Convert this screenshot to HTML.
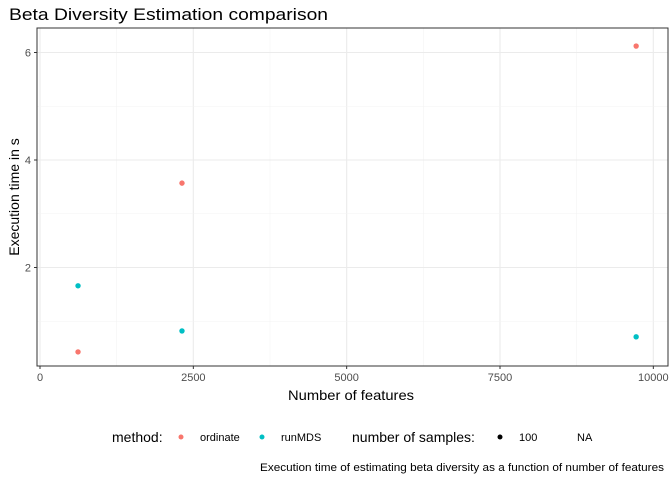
<!DOCTYPE html>
<html><head><meta charset="utf-8"><style>
body{margin:0;background:#fff;font-family:"Liberation Sans",sans-serif}
</style></head><body>
<svg width="672" height="480" xmlns="http://www.w3.org/2000/svg" font-family="Liberation Sans, sans-serif">
<rect width="672" height="480" fill="#fff"/>
<text x="9" y="20" font-size="17" fill="#000" textLength="319" lengthAdjust="spacingAndGlyphs">Beta Diversity Estimation comparison</text>
<g id="grid"></g>
<rect x="37" y="28" width="631" height="338" fill="none" stroke="#333" stroke-width="1"/>
<g id="axes" font-size="11" fill="#4d4d4d"></g>
<g id="pts"></g>
<text x="351" y="400" font-size="14" text-anchor="middle" textLength="126" lengthAdjust="spacingAndGlyphs">Number of features</text>
<text transform="translate(19,197) rotate(-90)" font-size="14" text-anchor="middle">Execution time in s</text>
<g font-size="12">
<text x="112" y="442" font-size="14">method:</text>
<circle cx="181" cy="437" r="2.5" fill="#F8766D"/>
<text x="200" y="441" font-size="11">ordinate</text>
<circle cx="262" cy="437" r="2.5" fill="#00BFC4"/>
<text x="281" y="441" font-size="11">runMDS</text>
<text x="352" y="442" font-size="14">number of samples:</text>
<circle cx="500" cy="437" r="2.5" fill="#000"/>
<text x="519" y="441" font-size="11">100</text>
<text x="577" y="441" font-size="11">NA</text>
</g>
<text x="664" y="471" font-size="11" text-anchor="end" textLength="404" lengthAdjust="spacingAndGlyphs">Execution time of estimating beta diversity as a function of number of features</text>
</svg>
<script>
const xTicks=[0,2500,5000,7500,10000];
const yTicks=[2,4,6];
const features=[620,2315,9720];
const ordinateTimes=[0.43,3.57,6.12];
const runMDSTimes=[1.66,0.82,0.71];
const NS="http://www.w3.org/2000/svg";
const X=v=>40+v*0.061333;
const Y=v=>375-v*53.75;
const grid=document.getElementById('grid'),axes=document.getElementById('axes'),pts=document.getElementById('pts');
function mk(tag,attrs,parent){const e=document.createElementNS(NS,tag);for(const k in attrs)e.setAttribute(k,attrs[k]);parent.appendChild(e);return e;}
for(let i=0;i<xTicks.length;i++){
  const x=X(xTicks[i]);
  const l=mk('line',{x1:x,x2:x,y1:28,y2:366,stroke:'#ebebeb','stroke-width':1.1},grid);
  
  
  if(i<xTicks.length-1){const m=X((xTicks[i]+xTicks[i+1])/2);
    const g=mk('line',{x1:m,x2:m,y1:28,y2:366,stroke:'#f3f3f3','stroke-width':0.6},grid);
    
    }
  mk('line',{x1:x,x2:x,y1:366,y2:369,stroke:'#333'},axes);
  const t=mk('text',{x:x,y:381,'text-anchor':'middle'},axes);t.textContent=xTicks[i];
  
  
}
const minorY=[1,3,5];
minorY.forEach(v=>{const g=mk('line',{x1:37,x2:668,y1:Y(v),y2:Y(v),stroke:'#f3f3f3','stroke-width':0.6},grid);
  
  });
yTicks.forEach(v=>{const y=Y(v);
  const l=mk('line',{x1:37,x2:668,y1:y,y2:y,stroke:'#ebebeb','stroke-width':1.1},grid);
  
  
  mk('line',{x1:34,x2:37,y1:y,y2:y,stroke:'#333'},axes);
  const t=mk('text',{x:31,y:y+4,'text-anchor':'end'},axes);t.textContent=v;
  
  
});
features.forEach((f,i)=>{
  const a=mk('circle',{cx:X(f),cy:Y(ordinateTimes[i]),r:2.7,fill:'#F8766D'},pts);
  
  
  const b=mk('circle',{cx:X(f),cy:Y(runMDSTimes[i]),r:2.7,fill:'#00BFC4'},pts);
  
  
});
</script>
</body></html>
